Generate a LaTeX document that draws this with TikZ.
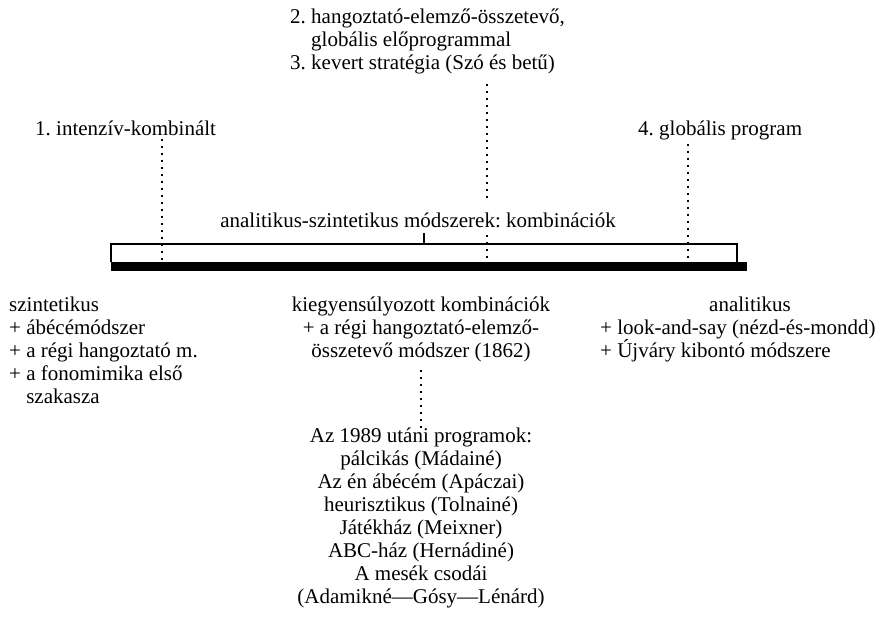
\documentclass[tikz,border=0pt]{standalone}
\usepackage{fontspec}
\setmainfont{Liberation Serif}
\frenchspacing
% fixed height for the first line of a block, so blocks can be placed by their first baseline
\newcommand\firstline{\rule{0pt}{16pt}}
\begin{document}
\begin{tikzpicture}[x=1pt,y=-1pt,
  lbl/.style={inner sep=0pt, font=\fontsize{21}{23}\selectfont},
  guide/.style={line width=1.6pt, dash pattern=on 1.8pt off 5.2pt},
  frame/.style={line width=1.3pt}]
\useasboundingbox (0,0) rectangle (880,631);

% the scale bar: thin open frame on a heavy base
\draw[frame] (111,262) |- (737,244) -- (737,262);
\fill (111,262) rectangle (747,271);
\coordinate (p1) at (162,262);
\coordinate (p23) at (487,262);
\coordinate (p4) at (688,262);
\coordinate (mid) at (424,244);

% labels above the bar
\node[lbl, anchor=north west, align=left] (strat) at (290,7)
  {\firstline 2. hangoztató-elemző-összetevő,\\\hphantom{2. }globális előprogrammal\\3. kevert stratégia (Szó és betű)};
\node[lbl, anchor=base west] (intens) at (35,136) {1. intenzív-kombinált};
\node[lbl, anchor=base west] (global) at (638,136) {4. globális program};
\node[lbl, anchor=base] (comb) at (418,227) {analitikus-szintetikus módszerek: kombinációk};

% guides from the labels down to the bar
\draw[guide] (intens.south -| p1) ++(0,3) -- (p1);
\draw[guide] (global.south -| p4) ++(0,3) -- (p4);
\coordinate (g1) at (487,200);
\coordinate (g2) at (487,235);
\draw[guide] (strat.south -| p23) ++(0,10) -- (g1);
\draw[guide] (g2) -- (p23);
\draw[frame] (comb.south -| mid) ++(0,6) -- (mid);

% groups below the bar
\node[lbl, anchor=north west, align=left] (synth) at (9,295)
  {\firstline szintetikus\\+ ábécémódszer\\+ a régi hangoztató m.\\+ a fonomimika első\\\hphantom{+ }szakasza};
\node[lbl, anchor=north, align=center] (balanced) at (421,295)
  {\firstline kiegyensúlyozott kombinációk\\+ a régi hangoztató-elemző-\\összetevő módszer (1862)};
\node[lbl, anchor=north, align=center] (programs) at (421,426)
  {\firstline Az 1989 utáni programok:\\pálcikás (Mádainé)\\Az én ábécém (Apáczai)\\heurisztikus (Tolnainé)\\Játékház (Meixner)\\ABC-ház (Hernádiné)\\A mesék csodái\\(Adamikné—Gósy—Lénárd)};
\node[lbl, anchor=base] (anal) at (750,311) {analitikus};
\node[lbl, anchor=north west, align=left] (anallist) at (600,318)
  {\firstline + look-and-say (nézd-és-mondd)\\+ Újváry kibontó módszere};

\draw[guide] (balanced.south) ++(0,8) -- ([yshift=-3pt]programs.north);
\end{tikzpicture}
\end{document}
